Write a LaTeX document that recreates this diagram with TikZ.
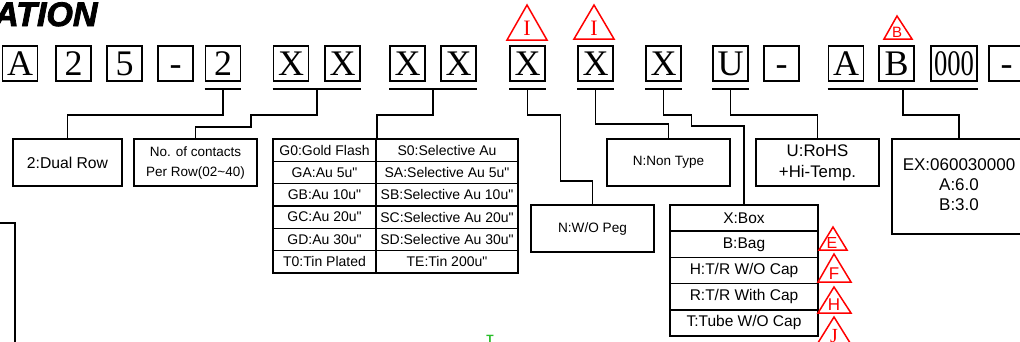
\documentclass[tikz,border=0pt]{standalone}
\usepackage{fontspec}
\setmainfont{Liberation Sans}
\newfontfamily\serifA{Liberation Serif}
\newfontfamily\titlef{Liberation Sans}[BoldItalicFeatures={FakeBold=2.5}]
\usetikzlibrary{calc}
\begin{document}
\begin{tikzpicture}[x=1pt,y=-1pt,
  lbox/.style={draw, line width=1.8pt, minimum width=35pt, minimum height=35pt, inner sep=0pt, text height=24pt, text depth=0pt, font=\serifA\fontsize{36}{36}\selectfont},
  ibox/.style={draw, line width=1.8pt, inner sep=0pt, align=center},
  conn/.style={line width=1.8pt},
  cell/.style={draw, line width=1.6pt, minimum height=22.33pt, inner sep=0pt, font=\fontsize{14}{16}\selectfont},
  scell/.style={draw, line width=1.6pt, minimum width=148pt, minimum height=26.2pt, inner sep=0pt, font=\fontsize{15.5}{18}\selectfont},
  tri/.style={draw=red, line width=1.5pt, line join=miter},
  tlet/.style={red, inner sep=0pt}]
\useasboundingbox (0,0) rectangle (1020,341);
\clip (0,0) rectangle (1020,341);
\fill[white] (0,0) rectangle (1020,341);
% title
\node[anchor=base west, inner sep=0pt, font=\titlef\bfseries\itshape\fontsize{34}{34}\selectfont] (title) at (-6,26) {ATION};
% top boxes
\foreach \c/\t/\n in {20/A/b1, 73.5/2/b2, 124.5/5/b3, 175.5/-/b4, 223/2/b5, 291/X/b6, 342.5/X/b7, 407.5/X/b8, 458.5/X/b9, 527.5/X/b10, 595.5/X/b11, 663.5/X/b12, 730.5/U/b13, 781.5/-/b14, 846/A/b15, 896.5/B/b16, 1006.5/-/b18}
  \node[lbox] (\n) at (\c,63.5) {\t};
\node[lbox, minimum width=46pt] (b17) at (954,63.5) {\scalebox{0.74}[1]{000}};
% underlines
\draw[conn] ([yshift=-7pt]b5.south west) -- node[coordinate] (u5) {} ([yshift=-7pt]b5.south east);
\draw[conn] ([yshift=-7pt]b6.south west) -- node[coordinate] (u67) {} ([yshift=-7pt]b7.south east);
\draw[conn] ([yshift=-7pt]b8.south west) -- node[coordinate] (u89) {} ([yshift=-7pt]b9.south east);
\draw[conn] ([yshift=-7pt]b10.south west) -- node[coordinate] (u10) {} ([yshift=-7pt]b10.south east);
\draw[conn] ([yshift=-7pt]b11.south west) -- node[coordinate] (u11) {} ([yshift=-7pt]b11.south east);
\draw[conn] ([yshift=-7pt]b12.south west) -- node[coordinate] (u12) {} ([yshift=-7pt]b12.south east);
\draw[conn] ([yshift=-7pt]b13.south west) -- node[coordinate] (u13) {} ([yshift=-7pt]b13.south east);
\draw[conn] ([yshift=-7pt]b15.south west) -- node[coordinate] (uab) {} ([yshift=-7pt]b17.south east);
% bottom boxes
\node[ibox, minimum width=109pt, minimum height=47pt, font=\fontsize{15.7}{19}\selectfont] (dual) at (67.5,162.5) {2:Dual Row};
\node[ibox, minimum width=123pt, minimum height=47pt, font=\fontsize{13.5}{20}\selectfont] (cont) at (195.5,162.5) {\raisebox{-1.5pt}{\begin{tabular}{@{}c@{}}No. of contacts\\[0pt]Per Row(02\textasciitilde40)\end{tabular}}};
\foreach \l/\r [count=\i] in {G0:Gold Flash/S0:Selective Au, GA:Au 5u\textquotedbl/SA:Selective Au 5u\textquotedbl, GB:Au 10u\textquotedbl/SB:Selective Au 10u\textquotedbl, GC:Au 20u\textquotedbl/SC:Selective Au 20u\textquotedbl, GD:Au 30u\textquotedbl/SD:Selective Au 30u\textquotedbl, T0:Tin Plated/TE:Tin 200u\textquotedbl}
{
  \node[cell, minimum width=103pt] (tl\i) at (324.5,{139+22.33*(\i-0.5)}) {\l};
  \node[cell, minimum width=142pt] (tr\i) at (447,{139+22.33*(\i-0.5)}) {\r};
}
\node[ibox, minimum width=123pt, minimum height=47pt, font=\fontsize{13.6}{16}\selectfont] (peg) at (592.5,228.5) {N:W/O Peg};
\node[ibox, minimum width=123pt, minimum height=47pt, font=\fontsize{13.5}{16}\selectfont] (non) at (668.5,162.5) {N:Non Type};
\foreach \t [count=\i] in {X:Box, B:Bag, H:T/R W/O Cap, R:T/R With Cap, T:Tube W/O Cap}
  \node[scell] (s\i) at (744,{205+26.2*(\i-0.5)}) {\t};
\node[ibox, minimum width=123pt, minimum height=47pt, font=\fontsize{16.8}{21}\selectfont] (rohs) at (817.5,162.5) {U:RoHS\\+Hi-Temp.};
\node[ibox, minimum width=134pt, minimum height=95pt, font=\fontsize{17}{20}\selectfont] (ex) at (959,186.5) {\raisebox{-2.5pt}{\begin{tabular}{@{}c@{}}EX:060030000\\[0pt]A:6.0\\[0pt]B:3.0\end{tabular}}};
% connectors
\draw[conn] (u5) -- ++(0,26) -| (dual.north);
\draw[conn] (u67) -- ++(0,26) -- ++(-66,0) -- ++(0,12) -| (cont.north);
\draw[conn] (u89) -- ++(0,26) -| (tl1.north east);
\draw[conn] (u10) -- ++(0,26) -- ++(33,0) -- ++(0,66) -| (peg.north);
\draw[conn] (u11) -- ++(0,35) -| (non.north);
\draw[conn] (u12) -- ++(0,26) -- ++(28,0) -- ++(0,11) -| (s1.north);
\draw[conn] (u13) -- ++(0,26) -| (rohs.north);
\draw[conn] (uab) -- ++(0,26) -| (ex.north);
% left line
\coordinate (lstart) at (0,223);
\draw[conn] (lstart) -- ++(15,0) -- ++(0,130);
% red triangles
\draw[tri] (527,5) -- (547,40) -- (507,40) -- cycle;
\node[tlet, font=\serifA\fontsize{22}{22}\selectfont] (tI1) at (527,28.5) {I};
\draw[tri] (594,5) -- (614,39) -- (574,39) -- cycle;
\node[tlet, font=\serifA\fontsize{22}{22}\selectfont] (tI2) at (594,28) {I};
\draw[tri] (897,16) -- (912,39) -- (884,39) -- cycle;
\node[tlet, font=\fontsize{15}{15}\selectfont] (tB) at (897,32.5) {B};
\draw[tri] (833,227) -- (847,250) -- (819,250) -- cycle;
\node[tlet, font=\fontsize{16}{16}\selectfont] (tE) at (832,242.5) {E};
\draw[tri] (834,254) -- (851,282) -- (818,282) -- cycle;
\node[tlet, font=\fontsize{17}{17}\selectfont] (tF) at (834,273.5) {F};
\draw[tri] (834,287) -- (851,313) -- (818,313) -- cycle;
\node[tlet, font=\fontsize{17}{17}\selectfont] (tH) at (834,305) {H};
\draw[tri] (834,317) -- (852,346) -- (816,346) -- cycle;
\node[tlet, font=\serifA\fontsize{20}{20}\selectfont] (tJ) at (834,336) {J};
% green mark
\node[text={rgb,255:red,40;green,190;blue,40}, inner sep=0pt, font=\bfseries\fontsize{12}{12}\selectfont] (gT) at (490,339) {T};
\end{tikzpicture}
\end{document}
